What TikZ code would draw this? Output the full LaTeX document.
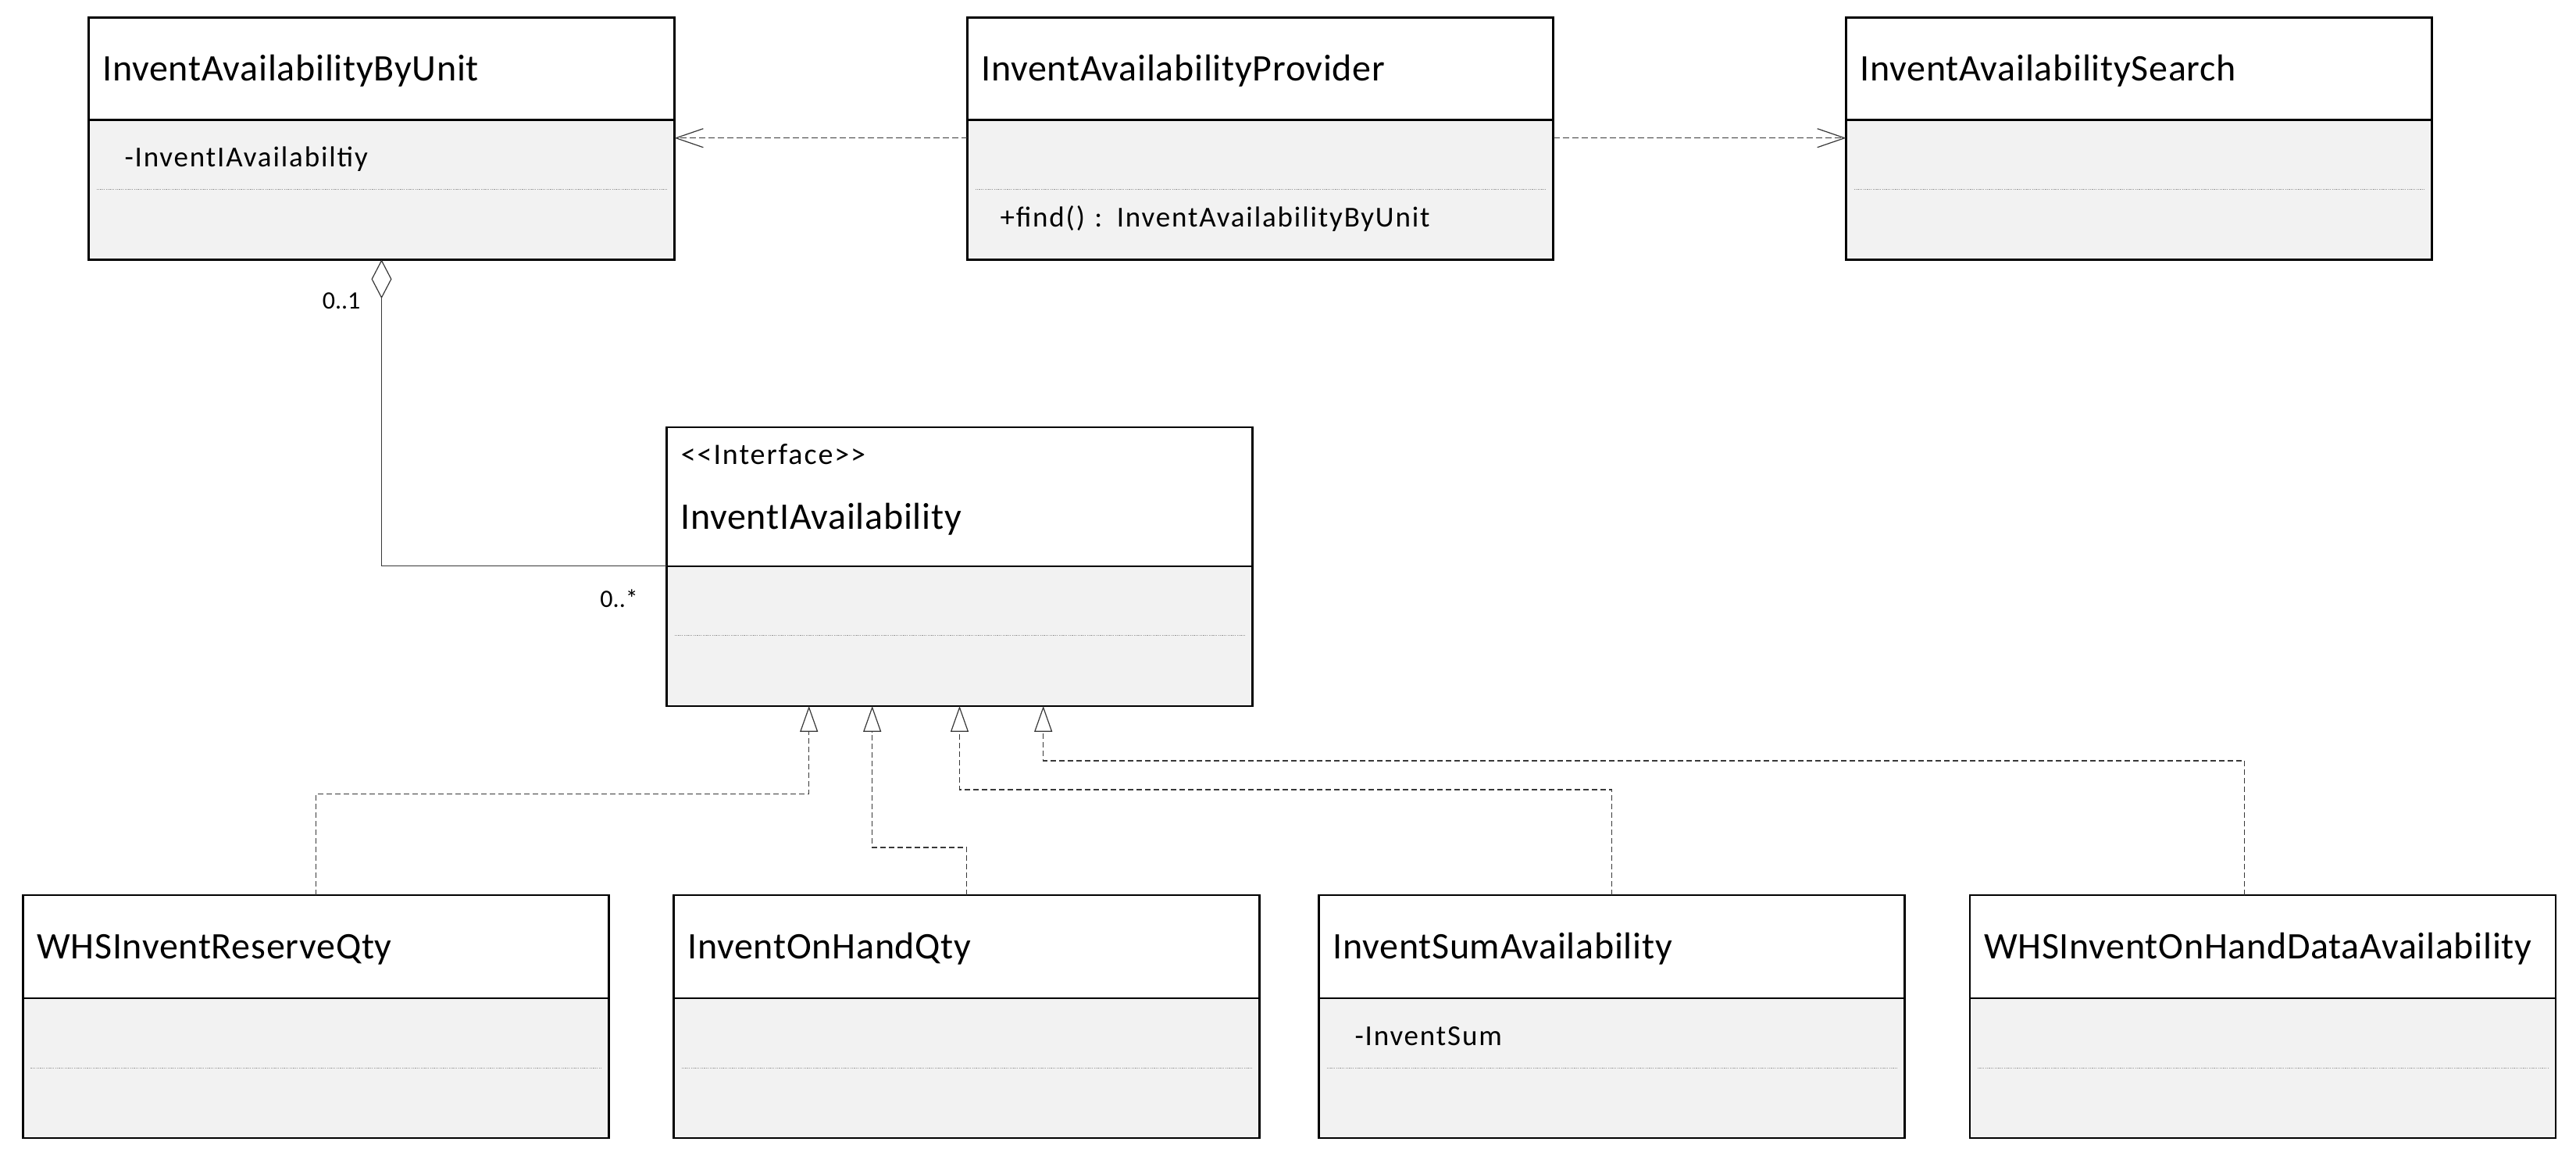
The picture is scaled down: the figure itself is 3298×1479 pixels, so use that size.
\documentclass[tikz,border=0pt]{standalone}
\usepackage{fontspec}
\setmainfont{Carlito}
\newfontfamily\headfont[LetterSpace=1.5]{Carlito}
\newfontfamily\partfont[LetterSpace=5]{Carlito}
\newfontfamily\multfont{Carlito}
\usetikzlibrary{positioning,arrows.meta}
\definecolor{partgray}{HTML}{F2F2F2}
\definecolor{linegray}{HTML}{383838}

\begin{document}
\begin{tikzpicture}[x=0.5pt,y=-0.5pt,
  classhead/.style={fill=white,minimum width=375pt,minimum height=65.5pt,
    inner xsep=9pt,inner ysep=0pt,outer sep=0pt,text width=357pt,align=left,
    text height=15.4pt,text depth=0pt,font=\headfont\fontsize{24}{28}\selectfont},
  classattr/.style={fill=partgray,minimum width=375pt,minimum height=44.5pt,
    inner xsep=23pt,inner ysep=0pt,outer sep=0pt,text width=329pt,align=left,
    text height=15.5pt,text depth=0pt,font=\partfont\fontsize{18.5}{22}\selectfont},
  classops/.style={classattr,inner xsep=21pt,text width=333pt,minimum height=45pt,
    text height=10pt,text depth=6.6pt},
  classframe/.style={draw=black,line width=1.2pt},
  sepline/.style={draw=gray!80,line width=0.5pt,dash pattern=on 0.6pt off 0.6pt},
  dep/.style={draw=linegray,line width=0.6pt,dash pattern=on 4pt off 2pt,
    -{Straight Barb[length=17.5pt,width=12pt]}},
  realize/.style={draw=linegray,line width=0.6pt,dash pattern=on 3.5pt off 2pt,
    -{Triangle[open,fill=white,length=16.5pt,width=11.5pt]}},
  aggr/.style={draw=linegray,line width=0.6pt,
    {Diamond[open,fill=white,length=25pt,width=13pt]}-},
  mult/.style={inner sep=0pt,font=\multfont\fontsize{16}{19}\selectfont},
  stereo/.style={inner sep=0pt,font=\partfont\fontsize{19}{22}\selectfont}]
 \path[fill=white,use as bounding box] (0,0) rectangle (3298,1479);

 % top row
 \node[classhead,anchor=north west] (byunit) at (113.5,22.3) {InventAvailabilityByUnit};
 \node[classattr,below=0pt of byunit] (byunit-a) {-InventIAvailabiltiy};
 \node[classops,below=0pt of byunit-a] (byunit-o) {};
 \node[classhead,anchor=north west] (provider) at (1238.5,22.3) {InventAvailabilityProvider};
 \node[classattr,below=0pt of provider] (provider-a) {};
 \node[classops,below=0pt of provider-a] (provider-o) {+find() : InventAvailabilityByUnit};
 \node[classhead,anchor=north west] (search) at (2363.5,22.3) {InventAvailabilitySearch};
 \node[classattr,below=0pt of search] (search-a) {};
 \node[classops,below=0pt of search-a] (search-o) {};

 % interface
 \node[classhead,anchor=north west,minimum height=89pt,text height=41.6pt] (iface) at (853.5,546.7) {InventIAvailability};
 \node[stereo,anchor=base west] (iface-s) at ([shift={(18,47.6)}]iface.north west) {<<Interface>>};
 \node[classattr,below=0pt of iface,minimum height=44.6pt] (iface-a) {};
 \node[classops,below=0pt of iface-a] (iface-o) {};

 % bottom row
 \node[classhead,anchor=north west,minimum height=66pt] (reserve) at (29.4,1146) {WHSInventReserveQty};
 \node[classattr,below=0pt of reserve] (reserve-a) {};
 \node[classops,below=0pt of reserve-a] (reserve-o) {};
 \node[classhead,anchor=north west,minimum height=66pt] (onhand) at (862.5,1146) {InventOnHandQty};
 \node[classattr,below=0pt of onhand] (onhand-a) {};
 \node[classops,below=0pt of onhand-a] (onhand-o) {};
 \node[classhead,anchor=north west,minimum height=66pt] (sumavail) at (1688.5,1146) {InventSumAvailability};
 \node[classattr,below=0pt of sumavail] (sumavail-a) {-InventSum};
 \node[classops,below=0pt of sumavail-a] (sumavail-o) {};
 \node[classhead,anchor=north west,minimum height=66pt] (whsdata) at (2522,1146) {WHSInventOnHandDataAvailability};
 \node[classattr,below=0pt of whsdata] (whsdata-a) {};
 \node[classops,below=0pt of whsdata-a] (whsdata-o) {};

 % frames and separators
 \draw[classframe] (byunit.north west) rectangle (byunit-o.south east) (byunit.south west) -- (byunit.south east);
 \draw[classframe] (provider.north west) rectangle (provider-o.south east) (provider.south west) -- (provider.south east);
 \draw[classframe] (search.north west) rectangle (search-o.south east) (search.south west) -- (search.south east);
 \draw[classframe] (iface.north west) rectangle (iface-o.south east) (iface.south west) -- (iface.south east);
 \draw[classframe] (reserve.north west) rectangle (reserve-o.south east) (reserve.south west) -- (reserve.south east);
 \draw[classframe] (onhand.north west) rectangle (onhand-o.south east) (onhand.south west) -- (onhand.south east);
 \draw[classframe] (sumavail.north west) rectangle (sumavail-o.south east) (sumavail.south west) -- (sumavail.south east);
 \draw[classframe] (whsdata.north west) rectangle (whsdata-o.south east) (whsdata.south west) -- (whsdata.south east);
 \draw[sepline] ([xshift=5pt]byunit-o.north west) -- ([xshift=-5pt]byunit-o.north east);
 \draw[sepline] ([xshift=5pt]provider-o.north west) -- ([xshift=-5pt]provider-o.north east);
 \draw[sepline] ([xshift=5pt]search-o.north west) -- ([xshift=-5pt]search-o.north east);
 \draw[sepline] ([xshift=5pt]iface-o.north west) -- ([xshift=-5pt]iface-o.north east);
 \draw[sepline] ([xshift=5pt]reserve-o.north west) -- ([xshift=-5pt]reserve-o.north east);
 \draw[sepline] ([xshift=5pt]onhand-o.north west) -- ([xshift=-5pt]onhand-o.north east);
 \draw[sepline] ([xshift=5pt]sumavail-o.north west) -- ([xshift=-5pt]sumavail-o.north east);
 \draw[sepline] ([xshift=5pt]whsdata-o.north west) -- ([xshift=-5pt]whsdata-o.north east);

 % dependencies
 \draw[dep] ([yshift=10.55pt]provider-a.west) -- ([yshift=10.55pt]byunit-a.east);
 \draw[dep] ([yshift=10.55pt]provider-a.east) -- ([yshift=10.55pt]search-a.west);

 % aggregation
 \draw[aggr] (byunit-o.south) |- (iface.south west);
 \node[mult,anchor=base east] (m-one) at ([shift={(-26.7,63.3)}]byunit-o.south) {0..1};
 \node[mult,anchor=base east] (m-many) at ([shift={(-36.3,52.7)}]iface.south west) {0..*};

 % realizations
 \draw[realize] (reserve.north) -- ++(0,-129.3) -| ([xshift=-96.4pt]iface-o.south);
 \draw[realize] (onhand.north) -- ++(0,-61) -| ([xshift=-55.9pt]iface-o.south);
 \draw[realize] (sumavail.north) -- ++(0,-135) -| (iface-o.south);
 \draw[realize] ([xshift=-11.75pt]whsdata.north) -- ++(0,-172) -| ([xshift=53.6pt]iface-o.south);
\end{tikzpicture}
\end{document}
